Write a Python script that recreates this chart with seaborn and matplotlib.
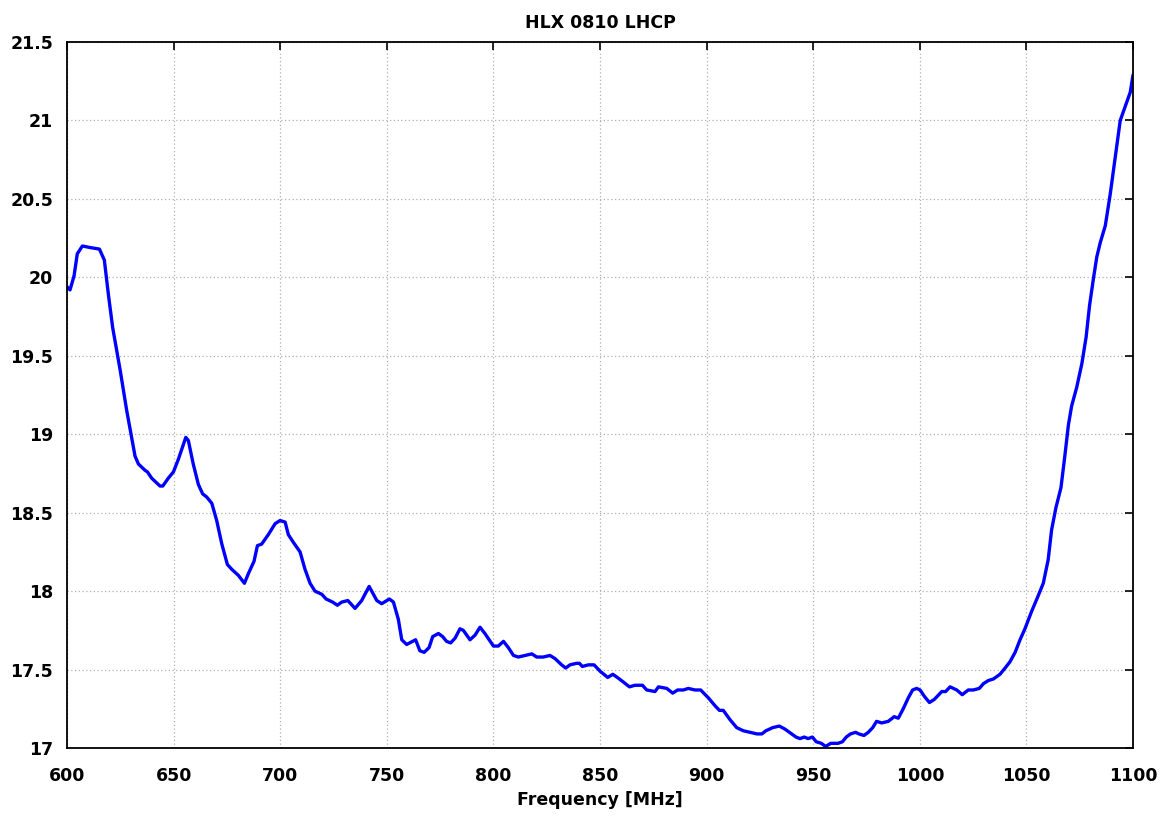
import pandas as pd
import numpy as np
import matplotlib
matplotlib.use("Agg")
import matplotlib.pyplot as plt
import seaborn as sns

# Style
sns.set_theme(style="white")
plt.rcParams['font.family'] = ['DejaVu Sans']
plt.rcParams['text.color'] = 'black'
plt.rcParams['axes.labelcolor'] = 'black'
plt.rcParams['xtick.color'] = 'black'
plt.rcParams['ytick.color'] = 'black'

# Data (frequency in MHz, gain in dBi)
FREQ = [
    600.0, 601.4, 603.3, 604.8, 607.2, 610.8, 615.2, 617.5, 619.4, 621.4,
    624.9, 628.0, 631.9, 633.5, 636.6, 637.7, 639.7, 643.6, 644.9, 647.5,
    649.9, 652.2, 655.7, 656.9, 659.2, 661.6, 663.6, 665.5, 667.9, 670.2,
    672.6, 675.2, 677.2, 680.4, 683.2, 685.0, 687.7, 689.3, 691.3, 694.4,
    697.6, 699.9, 702.3, 703.8, 706.2, 709.3, 711.6, 714.0, 716.3, 719.5,
    721.5, 724.6, 726.8, 728.8, 731.7, 735.1, 738.2, 741.7, 745.3, 747.6,
    751.2, 753.1, 755.4, 757.0, 759.3, 763.5, 765.5, 767.5, 769.8, 771.5,
    774.2, 776.2, 778.0, 779.9, 782.0, 784.3, 785.9, 789.0, 791.4, 793.7,
    796.0, 800.0, 802.3, 804.7, 807.0, 809.4, 811.7, 814.8, 818.0, 820.3,
    823.4, 826.5, 828.9, 832.0, 833.9, 835.9, 839.0, 840.3, 841.7, 844.5,
    847.2, 850.0, 853.6, 856.0, 858.1, 861.0, 863.8, 866.4, 869.9, 871.9,
    875.8, 877.4, 881.3, 884.1, 886.4, 889.1, 891.4, 894.5, 897.2, 900.8,
    903.9, 906.0, 907.8, 911.0, 914.1, 917.2, 920.3, 923.6, 925.9, 927.8,
    931.0, 934.1, 936.8, 939.9, 941.9, 943.8, 945.8, 947.6, 949.6, 951.4,
    953.8, 955.8, 958.2, 961.6, 963.7, 965.5, 967.5, 969.9, 971.4, 973.8,
    975.8, 977.9, 979.7, 982.1, 985.2, 988.0, 989.9, 992.2, 994.6, 996.6,
    998.5, 1000.1, 1002.1, 1004.5, 1006.8, 1008.2, 1010.3, 1012.1, 1014.2, 1017.3,
    1019.9, 1022.7, 1025.1, 1027.9, 1029.8, 1032.1, 1034.5, 1037.6, 1040.0, 1042.3,
    1044.7, 1047.0, 1049.3, 1052.4, 1055.5, 1057.9, 1060.2, 1061.8, 1063.8, 1066.2,
    1068.0, 1069.7, 1071.2, 1073.6, 1076.0, 1078.0, 1079.6, 1081.4, 1083.0, 1084.6,
    1087.0, 1089.3, 1091.7, 1094.0, 1098.7, 1100.0,
]
GAIN = [
    19.94, 19.92, 20.01, 20.15, 20.20, 20.19, 20.18, 20.11, 19.89, 19.68,
    19.41, 19.15, 18.86, 18.81, 18.77, 18.76, 18.72, 18.67, 18.67, 18.72,
    18.76, 18.84, 18.98, 18.96, 18.81, 18.68, 18.62, 18.60, 18.56, 18.45,
    18.30, 18.17, 18.14, 18.10, 18.05, 18.11, 18.19, 18.29, 18.30, 18.36,
    18.43, 18.45, 18.44, 18.36, 18.31, 18.25, 18.14, 18.05, 18.00, 17.98,
    17.95, 17.93, 17.91, 17.93, 17.94, 17.89, 17.94, 18.03, 17.94, 17.92,
    17.95, 17.93, 17.82, 17.69, 17.66, 17.69, 17.62, 17.61, 17.64, 17.71,
    17.73, 17.71, 17.68, 17.67, 17.70, 17.76, 17.75, 17.69, 17.72, 17.77,
    17.73, 17.65, 17.65, 17.68, 17.64, 17.59, 17.58, 17.59, 17.60, 17.58,
    17.58, 17.59, 17.57, 17.53, 17.51, 17.53, 17.54, 17.54, 17.52, 17.53,
    17.53, 17.49, 17.45, 17.47, 17.45, 17.42, 17.39, 17.40, 17.40, 17.37,
    17.36, 17.39, 17.38, 17.35, 17.37, 17.37, 17.38, 17.37, 17.37, 17.32,
    17.27, 17.24, 17.24, 17.18, 17.13, 17.11, 17.10, 17.09, 17.09, 17.11,
    17.13, 17.14, 17.12, 17.09, 17.07, 17.06, 17.07, 17.06, 17.07, 17.04,
    17.03, 17.01, 17.03, 17.03, 17.04, 17.07, 17.09, 17.10, 17.09, 17.08,
    17.10, 17.13, 17.17, 17.16, 17.17, 17.20, 17.19, 17.25, 17.32, 17.37,
    17.38, 17.37, 17.33, 17.29, 17.31, 17.33, 17.36, 17.36, 17.39, 17.37,
    17.34, 17.37, 17.37, 17.38, 17.41, 17.43, 17.44, 17.47, 17.51, 17.55,
    17.61, 17.69, 17.76, 17.87, 17.97, 18.05, 18.20, 18.39, 18.53, 18.66,
    18.86, 19.06, 19.18, 19.30, 19.45, 19.62, 19.82, 19.99, 20.13, 20.22,
    20.33, 20.53, 20.77, 21.00, 21.18, 21.29,
]
TITLE = "HLX 0810 LHCP"
XLABEL = "Frequency [MHz]"
XTICKS = [600, 650, 700, 750, 800, 850, 900, 950, 1000, 1050, 1100]
YTICKS = [17, 17.5, 18, 18.5, 19, 19.5, 20, 20.5, 21, 21.5]
YTICK_LABELS = ["17", "17.5", "18", "18.5", "19", "19.5", "20", "20.5", "21", "21.5"]


def make_plot():
    df = pd.DataFrame({"freq": FREQ, "gain": GAIN})

    fig = plt.figure(figsize=(11.7, 8.16), dpi=100)
    ax = fig.add_axes([0.0573, 0.0833, 0.9111, 0.8652])

    sns.lineplot(data=df, x="freq", y="gain", ax=ax, color="#0000ff",
                 linewidth=2.4, estimator=None, sort=False)

    ax.set_xlim(600, 1100)
    ax.set_ylim(17, 21.5)
    ax.set_xticks(XTICKS)
    ax.set_yticks(YTICKS)
    ax.set_xticklabels([str(t) for t in XTICKS], fontsize=12.5, fontweight="bold")
    ax.set_yticklabels(YTICK_LABELS, fontsize=12.5, fontweight="bold")

    ax.grid(True, linestyle=(0, (1, 2)), color="#b0b0b0", linewidth=0.9)
    ax.tick_params(direction="in", length=6, width=1.2, color="black",
                   top=True, right=True)
    ax.tick_params(axis="x", pad=14)
    ax.tick_params(axis="y", pad=10)
    for s in ax.spines.values():
        s.set_color("black")
        s.set_linewidth(1.3)

    ax.set_title(TITLE, fontsize=12.5, fontweight="bold", pad=10, color="black")
    ax.set_xlabel(XLABEL, fontsize=12.5, fontweight="bold", labelpad=4, color="black")
    ax.set_ylabel("")

    fig.savefig("out.png", dpi=100, facecolor="white")
    plt.close(fig)


if __name__ == "__main__":
    make_plot()
